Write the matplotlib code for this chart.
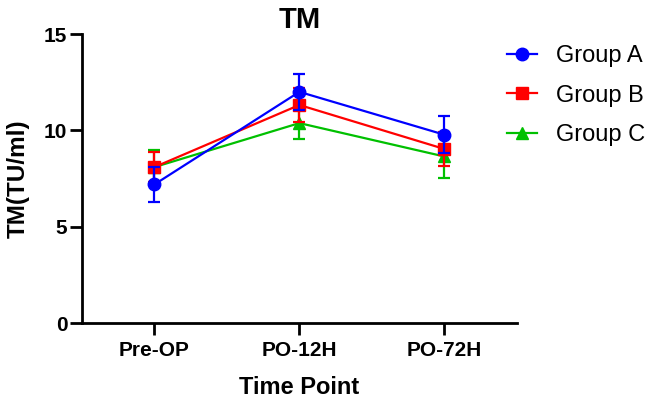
import matplotlib.pyplot as plt
from matplotlib.lines import Line2D
import numpy as np

plt.rcParams['font.family'] = ['Liberation Sans', 'DejaVu Sans']

time_points = ['Pre-OP', 'PO-12H', 'PO-72H']
group_a = [7.2, 12.0, 9.78]
group_a_sd = [0.92, 0.92, 0.95]
group_b = [8.1, 11.32, 9.04]
group_b_sd = [0.78, 0.87, 0.86]
group_c = [8.1, 10.38, 8.65]
group_c_sd = [0.87, 0.83, 1.1]

series = [
    ('Group A', group_a, group_a_sd, '#0000ff', 'o', 9),
    ('Group B', group_b, group_b_sd, '#ff0000', 's', 8.5),
    ('Group C', group_c, group_c_sd, '#00c000', '^', 8.5),
]

fig = plt.figure(figsize=(6.47, 4.0), dpi=100)
ax = fig.add_axes([0.1267, 0.1917, 0.672, 0.7233])
x = np.arange(len(time_points))

handles = []
for i, (name, vals, sd, col, mk, ms) in enumerate(series):
    ax.errorbar(x, vals, yerr=sd, color=col, marker=mk, markersize=ms,
                linewidth=1.6, elinewidth=1.6, capsize=4.5, capthick=1.6,
                zorder=5 - i)
    handles.append(Line2D([], [], color=col, marker=mk, markersize=ms,
                          linewidth=1.6, label=name))

ax.set_xlim(-0.5, 2.5)
ax.set_ylim(0, 15)
ax.set_yticks([0, 5, 10, 15])
ax.set_xticks(x)
ax.set_xticklabels(time_points)
for lab in ax.get_xticklabels() + ax.get_yticklabels():
    lab.set_fontweight('bold')
    lab.set_fontsize(15)
ax.tick_params(width=2, length=8.5, direction='out')
ax.tick_params(axis='y', pad=2)
ax.tick_params(axis='x', pad=4)
ax.spines['top'].set_visible(False)
ax.spines['right'].set_visible(False)
ax.spines['left'].set_linewidth(2)
ax.spines['bottom'].set_linewidth(2)

ax.set_title('TM', fontsize=21, fontweight='bold', pad=2)
ax.set_xlabel('Time Point', fontsize=17, fontweight='bold', labelpad=12)
ax.set_ylabel('TM(TU/ml)', fontsize=17.5, fontweight='bold', labelpad=10)

ax.legend(handles=handles, loc='upper left', bbox_to_anchor=(507 / 647, 1 - 45 / 400),
          bbox_transform=fig.transFigure, frameon=False, fontsize=17,
          handlelength=1.27, handletextpad=0.8, labelspacing=0.75,
          borderpad=0, borderaxespad=0)

fig.savefig('out.png', dpi=100)
